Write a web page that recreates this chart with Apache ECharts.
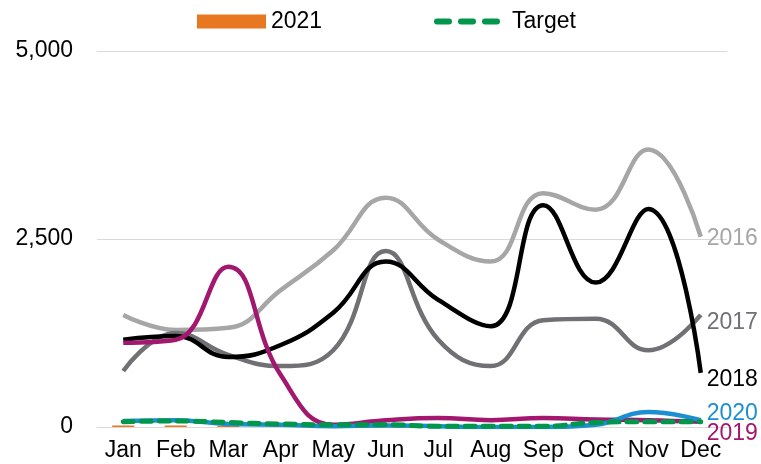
<!DOCTYPE html>
<html>
<head>
<meta charset="utf-8">
<script src="https://cdn.jsdelivr.net/npm/echarts@6/dist/echarts.min.js"></script>
<style>
  html, body { margin: 0; padding: 0; background: #fff; }
  #chart { width: 761px; height: 464px; }
</style>
</head>
<body>
<div id="chart"></div>
<script>
const months = ['Jan', 'Feb', 'Mar', 'Apr', 'May', 'Jun', 'Jul', 'Aug', 'Sep', 'Oct', 'Nov', 'Dec'];
const yTicks = [0, 2500, 5000];

const y2016 = [1490, 1290, 1320, 1820, 2350, 3050, 2490, 2200, 3110, 2890, 3690, 2530];
const y2017 = [745, 1250, 960, 810, 1020, 2340, 1160, 810, 1420, 1440, 1020, 1490];
const y2018 = [1160, 1210, 930, 1090, 1520, 2200, 1690, 1340, 2950, 1920, 2900, 720];
const y2019 = [1120, 1160, 2130, 690, 30, 90, 120, 90, 120, 100, 90, 70];
const y2020 = [80, 90, 40, 30, 10, 20, 10, 0, 0, 30, 200, 90];
const y2021 = [20, 20, 15];
const target = [70, 80, 60, 40, 30, 30, 10, 10, 10, 60, 70, 70];

const font = 'Liberation Sans, Arial, sans-serif';
const dashIcon = 'path://M3,0h12a3,3 0 0 1 0,6h-12a3,3 0 0 1 0,-6z' +
    'M27,0h12a3,3 0 0 1 0,6h-12a3,3 0 0 1 0,-6z' +
    'M51,0h12a3,3 0 0 1 0,6h-12a3,3 0 0 1 0,-6z';

function lineSeries(name, data, color, offset) {
    return {
        name: name,
        type: 'line',
        data: data,
        smooth: 0.45,
        showSymbol: false,
        lineStyle: { color: color, width: 4.5 },
        itemStyle: { color: color },
        endLabel: {
            show: true,
            formatter: '{a}',
            color: color,
            fontSize: 23,
            fontFamily: font,
            distance: 6,
            offset: offset || [0, 0]
        }
    };
}

const chart = echarts.init(document.getElementById('chart'), null, { renderer: 'canvas' });
chart.setOption({
    animation: false,
    legend: [
        {
            data: [{ name: '2021', icon: 'rect' }],
            top: 5,
            left: 192,
            itemWidth: 69,
            itemHeight: 14,
            textStyle: { fontSize: 23, fontFamily: font, color: '#000' }
        },
        {
            data: [{ name: 'Target', icon: dashIcon }],
            top: 5,
            left: 429,
            itemWidth: 66,
            itemHeight: 6,
            itemGap: 0,
            textStyle: { fontSize: 23, fontFamily: font, color: '#000', padding: [0, 0, 0, 7] }
        }
    ],
    grid: { left: 97, right: 34, top: 51, bottom: 37 },
    xAxis: {
        type: 'category',
        data: months,
        axisLine: { lineStyle: { color: '#d9d9d9' } },
        axisTick: { show: false },
        axisLabel: { interval: 0, hideOverlap: false, fontSize: 23, fontFamily: font, color: '#000', margin: 12 }
    },
    yAxis: {
        type: 'value',
        min: yTicks[0],
        max: yTicks[yTicks.length - 1],
        interval: 2500,
        axisLine: { show: false },
        axisTick: { show: false },
        splitLine: { lineStyle: { color: '#d9d9d9' } },
        axisLabel: {
            fontSize: 23, fontFamily: font, color: '#000', margin: 24,
            padding: [4, 0, 0, 0],
            formatter: v => v.toLocaleString('en-US')
        }
    },
    series: [
        {
            name: '2021',
            type: 'bar',
            data: y2021,
            barWidth: 22,
            itemStyle: { color: '#e87722' }
        },
        lineSeries('2016', y2016, '#a6a6a6', [0, 2]),
        lineSeries('2017', y2017, '#707075', [0, 8]),
        lineSeries('2018', y2018, '#000000', [0, 7]),
        lineSeries('2019', y2019, '#a2186e', [0, 12]),
        lineSeries('2020', y2020, '#1c8fd3', [0, -7]),
        {
            name: 'Target',
            type: 'line',
            data: target,
            smooth: 0.45,
            showSymbol: false,
            symbol: 'none',
            lineStyle: { color: '#00964b', width: 5, type: [10, 8], cap: 'round' },
            itemStyle: { color: '#00964b' }
        }
    ]
});
</script>
</body>
</html>
